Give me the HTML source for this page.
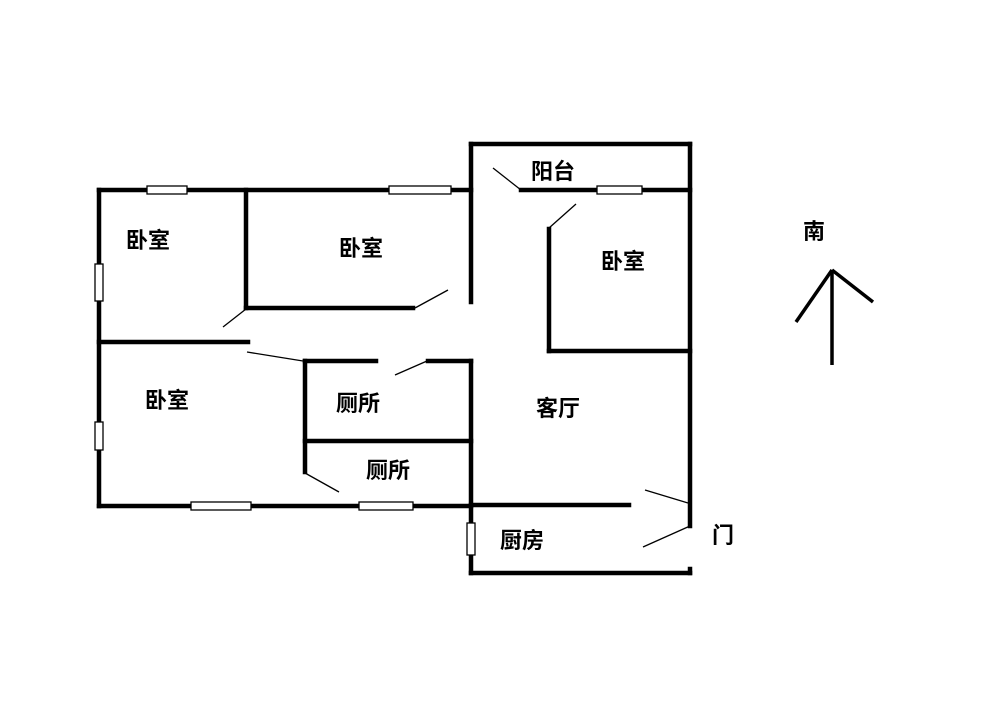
<!DOCTYPE html>
<html><head><meta charset="utf-8"><style>
html,body{margin:0;padding:0;background:#fff;}
svg{display:block;}
text{font-family:"Liberation Sans","Noto Sans CJK SC","WenQuanYi Zen Hei",sans-serif;font-size:22px;font-weight:bold;fill:#000;}
</style></head><body>
<svg width="1000" height="728" viewBox="0 0 1000 728" xmlns="http://www.w3.org/2000/svg">
<g stroke="#000" stroke-width="4.5" fill="none" stroke-linecap="square">
<polyline points="99,190 471,190"/>
<line x1="99" y1="190" x2="99" y2="506"/>
<line x1="99" y1="506" x2="471" y2="506"/>
<line x1="471" y1="144" x2="471" y2="302"/>
<line x1="471" y1="361" x2="471" y2="573"/>
<line x1="246" y1="190" x2="246" y2="308"/>
<line x1="246" y1="308" x2="413" y2="308"/>
<line x1="99" y1="342" x2="248" y2="342"/>
<line x1="305" y1="361" x2="376" y2="361"/>
<line x1="428" y1="361" x2="471" y2="361"/>
<line x1="305" y1="361" x2="305" y2="472"/>
<line x1="305" y1="441" x2="471" y2="441"/>
<line x1="471" y1="144" x2="690" y2="144"/>
<line x1="690" y1="144" x2="690" y2="526"/>
<line x1="521" y1="190" x2="690" y2="190"/>
<line x1="549" y1="229" x2="549" y2="351"/>
<line x1="549" y1="351" x2="690" y2="351"/>
<line x1="471" y1="505" x2="629" y2="505"/>
<line x1="690" y1="569" x2="690" y2="573"/>
<line x1="471" y1="573" x2="690" y2="573"/>
</g>
<g stroke="#000" stroke-width="1.3" fill="none">
<line x1="415" y1="308" x2="448" y2="290"/>
<line x1="246" y1="309" x2="223" y2="327"/>
<line x1="247" y1="352" x2="303" y2="361"/>
<line x1="395" y1="375" x2="427" y2="361"/>
<line x1="305" y1="473" x2="339" y2="492"/>
<line x1="493" y1="168" x2="521" y2="190"/>
<line x1="549" y1="228" x2="576" y2="204"/>
<line x1="645" y1="490" x2="688" y2="503"/>
<line x1="690" y1="526" x2="643" y2="547"/>
</g>
<g stroke="#000" stroke-width="1.3" fill="#fff">
<rect x="147" y="186" width="40" height="8"/>
<rect x="389" y="186" width="62" height="8"/>
<rect x="597" y="186" width="45" height="8"/>
<rect x="191" y="502" width="60" height="8"/>
<rect x="359" y="502" width="54" height="8"/>
<rect x="95" y="264" width="8" height="37"/>
<rect x="95" y="422" width="8" height="28"/>
<rect x="467" y="523" width="8" height="32"/>
</g>
<g stroke="#000" stroke-width="3.5" fill="none">
<line x1="832" y1="270" x2="832" y2="365"/>
<line x1="832" y1="270" x2="796" y2="322"/>
<line x1="832" y1="270" x2="873" y2="302"/>
</g>
<text x="126" y="248">卧室</text>
<text x="339" y="256">卧室</text>
<text x="601" y="269">卧室</text>
<text x="145" y="408">卧室</text>
<text x="336" y="411">厕所</text>
<text x="366" y="478">厕所</text>
<text x="536" y="416">客厅</text>
<text x="531" y="179">阳台</text>
<text x="500" y="548">厨房</text>
<text x="712" y="543">门</text>
<text x="803" y="239">南</text>
</svg>
</body></html>
